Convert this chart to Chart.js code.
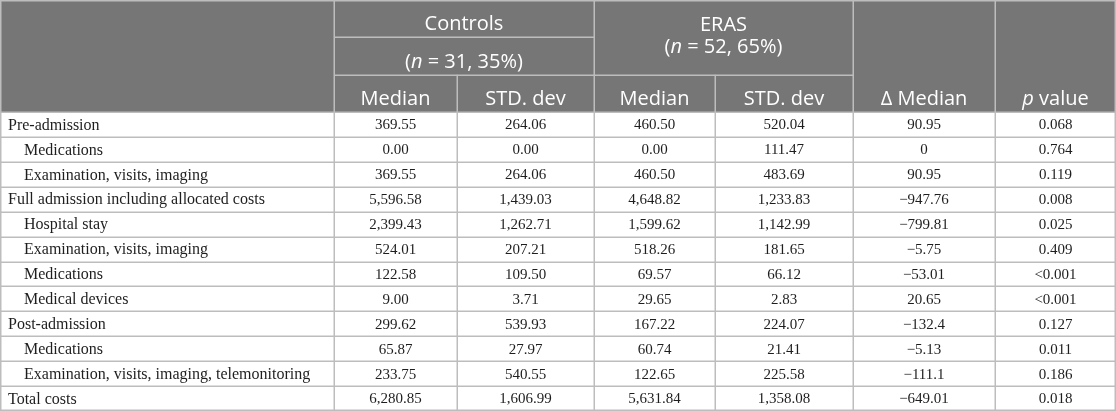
<!DOCTYPE html>
<html>
<head>
<meta charset="utf-8">
<script src="https://cdn.jsdelivr.net/npm/chart.js@4.4.1/dist/chart.umd.min.js"></script>
<style>
    html, body { margin: 0; padding: 0; background: #fff; }
    #wrap { width: 1116px; height: 411px; position: relative; }
</style>
</head>
<body>
<div id="wrap"><canvas id="costTable"></canvas></div>
<script>
// TABLE DATA
const rowLabels = [
    "Pre-admission", "Medications", "Examination, visits, imaging",
    "Full admission including allocated costs", "Hospital stay", "Examination, visits, imaging",
    "Medications", "Medical devices", "Post-admission", "Medications",
    "Examination, visits, imaging, telemonitoring", "Total costs"
];
const subRows = [false, true, true, false, true, true, true, true, false, true, true, false];

const controlsMedian = [369.55, 0.00, 369.55, 5596.58, 2399.43, 524.01, 122.58, 9.00, 299.62, 65.87, 233.75, 6280.85];
const controlsSD = [264.06, 0.00, 264.06, 1439.03, 1262.71, 207.21, 109.50, 3.71, 539.93, 27.97, 540.55, 1606.99];
const erasMedian = [460.50, 0.00, 460.50, 4648.82, 1599.62, 518.26, 69.57, 29.65, 167.22, 60.74, 122.65, 5631.84];
const erasSD = [520.04, 111.47, 483.69, 1233.83, 1142.99, 181.65, 66.12, 2.83, 224.07, 21.41, 225.58, 1358.08];
const deltaMedian = [90.95, 0, 90.95, -947.76, -799.81, -5.75, -53.01, 20.65, -132.4, -5.13, -111.1, -649.01];
const pValues = ["0.068", "0.764", "0.119", "0.008", "0.025", "0.409", "<0.001", "<0.001", "0.127", "0.011", "0.186", "0.018"];

const groupNames = ["Controls", "ERAS"];
const groupSizes = [["31", "35%"], ["52", "65%"]];
const subHeaders = ["Median", "STD. dev", "Median", "STD. dev"];

// layout (x units = px of the original table, y units = body rows)
const colWidths = [334, 123, 137, 121, 138, 142, 121];
const headRow = 1.5;
const headTotal = headRow * 3;

const colEdges = [0];
colWidths.forEach(w => colEdges.push(colEdges[colEdges.length - 1] + w));
const totalWidth = colEdges[colEdges.length - 1];
const totalRows = headTotal + rowLabels.length;

const headFont = '20px "Open Sans"';
const bodyFont = '15px "Liberation Serif"';
const lineColor = '#bdbdbd';
const headBg = '#767676';

function fmt2(v) {
    return v.toLocaleString('en-US', { minimumFractionDigits: 2, maximumFractionDigits: 2 });
}
function fmtDelta(v) {
    const s = Math.abs(v).toLocaleString('en-US', { maximumFractionDigits: 2 });
    return (v < 0 ? '\u2212' : '') + s;
}

function columnSet(col, texts) {
    return {
        label: 'col' + col,
        texts: texts,
        data: texts.map((t, i) => ({ x: colEdges[col] + colWidths[col] / 2, y: headTotal + i + 0.5 })),
        pointRadius: 0,
        showLine: false
    };
}

const datasets = [
    {
        label: 'labels',
        texts: rowLabels,
        data: rowLabels.map((t, i) => ({ x: colEdges[0], y: headTotal + i + 0.5 })),
        pointRadius: 0,
        showLine: false
    },
    columnSet(1, controlsMedian.map(fmt2)),
    columnSet(2, controlsSD.map(fmt2)),
    columnSet(3, erasMedian.map(fmt2)),
    columnSet(4, erasSD.map(fmt2)),
    columnSet(5, deltaMedian.map(fmtDelta)),
    columnSet(6, pValues)
];

// draws text made of plain / italic parts, centred on cx
function richText(ctx, parts, cx, baseline) {
    let width = 0;
    parts.forEach(p => {
        ctx.font = (p.it ? 'italic ' : '') + headFont;
        width += ctx.measureText(p.t).width;
    });
    let x = cx - width / 2;
    ctx.textAlign = 'left';
    parts.forEach(p => {
        ctx.font = (p.it ? 'italic ' : '') + headFont;
        ctx.fillText(p.t, x, baseline);
        x += ctx.measureText(p.t).width;
    });
}

const tablePlugin = {
    id: 'tablePlugin',
    beforeDatasetsDraw(chart) {
        const ctx = chart.ctx;
        const xs = chart.scales.x, ys = chart.scales.y;
        const px = v => xs.getPixelForValue(v);
        const py = v => ys.getPixelForValue(v);

        ctx.save();
        ctx.fillStyle = headBg;
        ctx.fillRect(px(0), py(0), px(totalWidth) - px(0), py(headTotal) - py(0));

        ctx.strokeStyle = lineColor;
        ctx.lineWidth = 1.5;
        const hLine = (x0, x1, y) => {
            ctx.beginPath();
            ctx.moveTo(px(x0), Math.round(py(y)) + 0.25);
            ctx.lineTo(px(x1), Math.round(py(y)) + 0.25);
            ctx.stroke();
        };
        const vLine = (x, y0, y1) => {
            ctx.beginPath();
            ctx.moveTo(Math.round(px(x)) + 0.25, py(y0));
            ctx.lineTo(Math.round(px(x)) + 0.25, py(y1));
            ctx.stroke();
        };

        // header lines
        hLine(colEdges[1], colEdges[3], headRow);
        hLine(colEdges[1], colEdges[5], headRow * 2);
        vLine(colEdges[1], 0, totalRows);
        vLine(colEdges[2], headRow * 2, totalRows);
        vLine(colEdges[3], 0, totalRows);
        vLine(colEdges[4], headRow * 2, totalRows);
        vLine(colEdges[5], 0, totalRows);
        vLine(colEdges[6], 0, totalRows);

        // body rows
        for (let r = 0; r <= rowLabels.length; r++) {
            hLine(0, totalWidth, headTotal + r);
        }
        // outer frame
        ctx.strokeRect(px(0) + 0.75, py(0) + 0.75, px(totalWidth) - px(0) - 1.5, py(totalRows) - py(0) - 1.5);

        // header text
        ctx.fillStyle = '#ffffff';
        ctx.textBaseline = 'alphabetic';
        const cMid = px((colEdges[1] + colEdges[3]) / 2);
        richText(ctx, [{ t: groupNames[0] }], cMid, py(headRow) - 7);
        richText(ctx, [{ t: '(' }, { t: 'n', it: true }, { t: ' = ' + groupSizes[0][0] + ', ' + groupSizes[0][1] + ')' }], cMid, py(headRow * 2) - 7);

        const eMid = px((colEdges[3] + colEdges[5]) / 2);
        richText(ctx, [{ t: groupNames[1] }], eMid, py(headRow) - 6);
        richText(ctx, [{ t: '(' }, { t: 'n', it: true }, { t: ' = ' + groupSizes[1][0] + ', ' + groupSizes[1][1] + ')' }], eMid, py(headRow) + 15.5);

        subHeaders.forEach((h, i) => {
            richText(ctx, [{ t: h }], px(colEdges[i + 1] + colWidths[i + 1] / 2), py(headTotal) - 7);
        });
        richText(ctx, [{ t: '\u0394 Median' }], px(colEdges[5] + colWidths[5] / 2), py(headTotal) - 7);
        richText(ctx, [{ t: 'p', it: true }, { t: ' value' }], px(colEdges[6] + colWidths[6] / 2), py(headTotal) - 7);
        ctx.restore();
    },
    afterDatasetsDraw(chart) {
        const ctx = chart.ctx;
        ctx.save();
        ctx.fillStyle = '#1e1e1e';
        ctx.textBaseline = 'middle';
        chart.data.datasets.forEach((ds, d) => {
            const meta = chart.getDatasetMeta(d);
            meta.data.forEach((pt, i) => {
                if (d === 0) {
                    ctx.font = '16px "Liberation Serif"';
                    ctx.textAlign = 'left';
                    ctx.fillText(ds.texts[i], pt.x + (subRows[i] ? 24 : 8), pt.y + 1);
                } else {
                    ctx.font = bodyFont;
                    ctx.textAlign = 'center';
                    ctx.fillText(ds.texts[i], pt.x, pt.y + 1);
                }
            });
        });
        ctx.restore();
    }
};

const costChart = new Chart(document.getElementById('costTable').getContext('2d'), {
    type: 'scatter',
    data: { datasets: datasets },
    options: {
        responsive: true,
        maintainAspectRatio: false,
        animation: false,
        layout: { padding: 0 },
        plugins: {
            legend: { display: false },
            tooltip: { enabled: false }
        },
        scales: {
            x: { type: 'linear', min: 0, max: totalWidth, display: false },
            y: { type: 'linear', min: 0, max: totalRows, reverse: true, display: false }
        }
    },
    plugins: [tablePlugin]
});
</script>
</body>
</html>
